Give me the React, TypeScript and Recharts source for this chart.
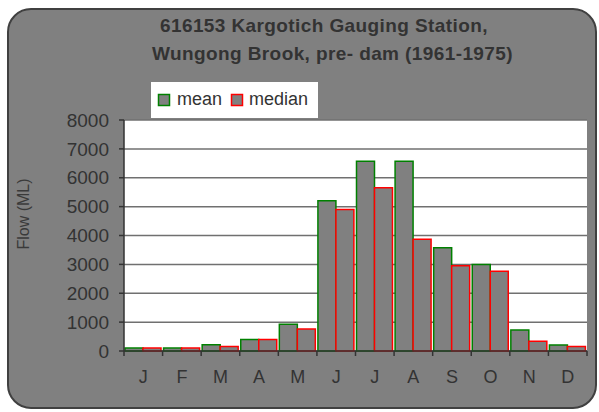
import React from 'react';
import { BarChart, Bar, XAxis, YAxis, CartesianGrid, Legend } from 'recharts';

const monthKeys = ['Jan', 'Feb', 'Mar', 'Apr', 'May', 'Jun', 'Jul', 'Aug', 'Sep', 'Oct', 'Nov', 'Dec'];
const monthLabels = ['J', 'F', 'M', 'A', 'M', 'J', 'J', 'A', 'S', 'O', 'N', 'D'];
const meanFlow = [100, 100, 220, 400, 930, 5200, 6570, 6570, 3580, 3000, 730, 210];
const medianFlow = [100, 100, 160, 400, 760, 4900, 5650, 3870, 2950, 2760, 335, 160];
const yTicks = [0, 1000, 2000, 3000, 4000, 5000, 6000, 7000, 8000];
const titleLines = ['616153 Kargotich Gauging Station,', 'Wungong Brook, pre- dam (1961-1975)'];

const data = monthKeys.map((m, i) => ({ month: m, mean: meanFlow[i], median: medianFlow[i] }));

const FONT = '"Liberation Sans", Arial, sans-serif';
const TEXT = '#333333';

const MonthTick = (props: any) => {
  const { x, y, payload, index } = props;
  const off = payload && payload.offset ? payload.offset : 0;
  const top = y - 19;
  return (
    <g>
      <line x1={x - off} x2={x - off} y1={top} y2={top + 5} stroke="#333" strokeWidth={1.5} />
      {index === monthKeys.length - 1 && (
        <line x1={x + off} x2={x + off} y1={top} y2={top + 5} stroke="#333" strokeWidth={1.5} />
      )}
      <text x={x} y={y} dy="0.71em" textAnchor="middle" fill={TEXT} fontSize={18} fontFamily={FONT}>
        {monthLabels[index]}
      </text>
    </g>
  );
};

const LegendBox = () => (
  <div style={{ width: 167, height: 36, background: '#fff' }}>
    <svg width={167} height={36}>
      <rect x={7.5} y={12.5} width={11} height={11} fill="#808080" stroke="#008000" strokeWidth={1.5} />
      <text x={26} y={23} fontSize={18} fill={TEXT} fontFamily={FONT}>mean</text>
      <rect x={80.5} y={12.5} width={11} height={11} fill="#808080" stroke="#ff0000" strokeWidth={1.5} />
      <text x={98} y={23} fontSize={18} fill={TEXT} fontFamily={FONT}>median</text>
    </svg>
  </div>
);

export default function App() {
  return (
    <div style={{ position: 'absolute', left: 0, top: 0, width: 599, height: 412, fontFamily: FONT, background: '#fff' }}>
      <div
        style={{
          position: 'absolute',
          left: 7,
          top: 8,
          width: 590,
          height: 401,
          boxSizing: 'border-box',
          border: '2px solid #404040',
          borderRadius: 24,
          background: '#808080',
        }}
      />
      <div style={{ position: 'absolute', left: 0, top: 0 }}>
        <BarChart
          width={599}
          height={412}
          data={data}
          margin={{ top: 120, right: 12, bottom: 31, left: 60 }}
          barCategoryGap={1}
          barGap={0}
        >
          <CartesianGrid vertical={false} stroke="#707070" strokeWidth={1.5} fill="#ffffff" fillOpacity={1} />
          <XAxis
            dataKey="month"
            height={30}
            tickSize={5}
            tickMargin={14}
            tickLine={false}
            interval={0}
            axisLine={{ stroke: '#333', strokeWidth: 1.5 }}
            tick={<MonthTick />}
          />
          <YAxis
            width={64}
            domain={[0, 8000]}
            ticks={yTicks}
            interval={0}
            tickSize={5}
            tickMargin={10}
            axisLine={{ stroke: '#333', strokeWidth: 1.5 }}
            tickLine={{ stroke: '#333', strokeWidth: 1.5 }}
            tick={{ fill: TEXT, fontSize: 19, fontFamily: FONT }}
          />
          <Legend
            layout="vertical"
            align="center"
            verticalAlign="middle"
            content={<LegendBox />}
            wrapperStyle={{ position: 'absolute', left: 151, top: 82, width: 167, height: 36 }}
          />
          <Bar dataKey="mean" name="mean" fill="#808080" stroke="#008000" strokeWidth={1.5} isAnimationActive={false} />
          <Bar dataKey="median" name="median" fill="#808080" stroke="#ff0000" strokeWidth={1.5} isAnimationActive={false} />
        </BarChart>
      </div>
      <svg width={599} height={412} style={{ position: 'absolute', left: 0, top: 0, pointerEvents: 'none' }}>
        <text x={160} y={32} fontSize={19} fontWeight="bold" fill={TEXT} fontFamily={FONT} letterSpacing={0.4}>
          {titleLines[0]}
        </text>
        <text x={152} y={60} fontSize={19} fontWeight="bold" fill={TEXT} fontFamily={FONT} letterSpacing={0.4}>
          {titleLines[1]}
        </text>
        <text
          x={28.5}
          y={214}
          transform="rotate(-90, 28.5, 214)"
          textAnchor="middle"
          fontSize={16}
          fill="#3a3a3a"
          fontFamily={FONT}
        >
          Flow (ML)
        </text>
      </svg>
    </div>
  );
}
